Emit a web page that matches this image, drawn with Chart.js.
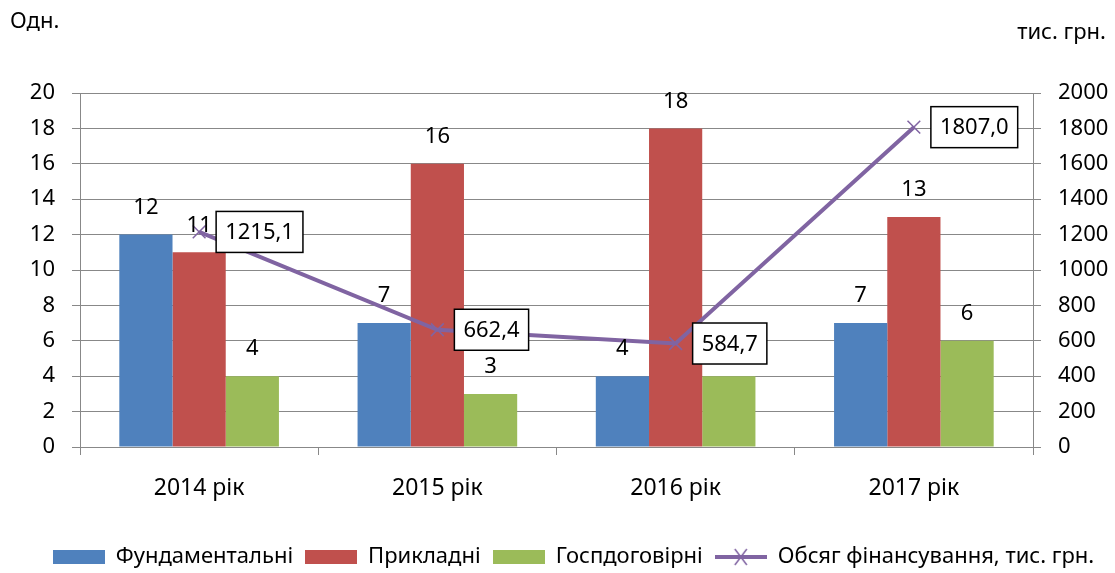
<!DOCTYPE html>
<html>
<head>
<meta charset="utf-8">
<script src="https://cdn.jsdelivr.net/npm/chart.js@4.4.0/dist/chart.umd.min.js"></script>
<style>
  html, body { margin: 0; padding: 0; background: #fff; }
  #wrap { width: 1115px; height: 573px; position: relative; }
</style>
</head>
<body>
<div id="wrap"><canvas id="chart" width="1115" height="573"></canvas></div>
<script>
// data
const categories = ["2014 рік", "2015 рік", "2016 рік", "2017 рік"];
const fundamental = [12, 7, 4, 7];
const applied = [11, 16, 18, 13];
const contract = [4, 3, 4, 6];
const funding = [1215.1, 662.4, 584.7, 1807.0];

const seriesNames = ["Фундаментальні", "Прикладні", "Госпдоговірні", "Обсяг фінансування, тис. грн."];
const colors = ["#4F81BD", "#C0504D", "#9BBB59", "#8064A2"];

const FONT = "'Noto Sans', sans-serif";

// legend swatches as small canvases
function makeBox(color) {
  const c = document.createElement("canvas");
  c.width = 52;
  c.height = 14;
  const g = c.getContext("2d");
  g.fillStyle = color;
  g.fillRect(0, 0, 52, 14);
  return c;
}
function makeLineMark(color) {
  const c = document.createElement("canvas");
  c.width = 52;
  c.height = 20;
  const g = c.getContext("2d");
  g.strokeStyle = color;
  g.lineWidth = 4;
  g.beginPath();
  g.moveTo(0, 10);
  g.lineTo(52, 10);
  g.stroke();
  g.lineWidth = 1.5;
  g.beginPath();
  g.moveTo(20, 2); g.lineTo(32, 18);
  g.moveTo(32, 2); g.lineTo(20, 18);
  g.stroke();
  return c;
}

const fmt = (v) => v.toFixed(1).replace(".", ",");

// nudge the legend a bit right and down, like the original
const legendShift = {
  id: "legendShift",
  afterLayout(chart) {
    const lg = chart.legend;
    if (!lg) return;
    lg.left += 16;
    lg.right += 16;
    lg.top += 5;
    lg.bottom += 5;
  }
};

// value labels above bars, boxed labels on the line, axis titles
const labelPlugin = {
  id: "labelPlugin",
  afterDatasetsDraw(chart) {
    const ctx = chart.ctx;
    ctx.save();
    ctx.font = "22px " + FONT;
    ctx.fillStyle = "#000";
    ctx.textAlign = "center";
    ctx.textBaseline = "bottom";
    for (let d = 0; d < 3; d++) {
      const meta = chart.getDatasetMeta(d);
      meta.data.forEach((bar, i) => {
        ctx.fillText(String(chart.data.datasets[d].data[i]), bar.x, bar.y - 16);
      });
    }
    const lineMeta = chart.getDatasetMeta(3);
    ctx.font = "22px " + FONT;
    ctx.textAlign = "left";
    ctx.textBaseline = "middle";
    lineMeta.data.forEach((pt, i) => {
      const txt = fmt(funding[i]);
      const w = ctx.measureText(txt).width + 18;
      const h = 41;
      const x = pt.x + 17;
      const y = pt.y - h / 2;
      ctx.fillStyle = "#fff";
      ctx.fillRect(x, y, w, h);
      ctx.strokeStyle = "#000";
      ctx.lineWidth = 1.5;
      ctx.strokeRect(x, y, w, h);
      ctx.fillStyle = "#000";
      ctx.fillText(txt, x + 9, pt.y + 1);
    });
    ctx.font = "22px " + FONT;
    ctx.textBaseline = "middle";
    ctx.textAlign = "left";
    ctx.fillText("Одн.", 10, 22);
    ctx.textAlign = "right";
    ctx.fillText("тис. грн.", 1106, 33);
    ctx.restore();
  }
};

const ctx = document.getElementById("chart").getContext("2d");
new Chart(ctx, {
  data: {
    labels: categories,
    datasets: [
      { type: "bar", label: seriesNames[0], data: fundamental, backgroundColor: colors[0], yAxisID: "y", order: 2, categoryPercentage: 0.67, barPercentage: 1 },
      { type: "bar", label: seriesNames[1], data: applied, backgroundColor: colors[1], yAxisID: "y", order: 2, categoryPercentage: 0.67, barPercentage: 1 },
      { type: "bar", label: seriesNames[2], data: contract, backgroundColor: colors[2], yAxisID: "y", order: 2, categoryPercentage: 0.67, barPercentage: 1 },
      {
        type: "line", label: seriesNames[3], data: funding, yAxisID: "y1", order: 1,
        borderColor: colors[3], borderWidth: 4, tension: 0,
        pointStyle: "crossRot", pointRadius: 9, pointBorderWidth: 1.5,
        pointBorderColor: colors[3], pointBackgroundColor: colors[3]
      }
    ]
  },
  options: {
    responsive: false,
    animation: false,
    layout: { padding: { top: 93, left: 0, right: 0, bottom: 0 } },
    scales: {
      x: {
        offset: true,
        grid: { offset: true, drawOnChartArea: false, drawTicks: true, tickLength: 8, color: "#888" },
        border: { color: "#888", width: 1 },
        ticks: { color: "#000", font: { family: FONT, size: 23 }, padding: 20 },
        afterFit(scale) { scale.height = 82; }
      },
      y: {
        position: "left",
        min: 0, max: 20,
        ticks: { stepSize: 2, color: "#000", font: { family: FONT, size: 22 }, padding: 17 },
        grid: { color: "#888", tickLength: 8 },
        border: { color: "#888", width: 1 },
        afterFit(scale) { scale.width = 80; }
      },
      y1: {
        position: "right",
        min: 0, max: 2000,
        ticks: {
          stepSize: 200, color: "#000", font: { family: FONT, size: 22 }, padding: 17,
          callback: (v) => String(v)
        },
        grid: { drawOnChartArea: false, color: "#888", tickLength: 8 },
        border: { color: "#888", width: 1 },
        afterFit(scale) { scale.width = 82; }
      }
    },
    plugins: {
      legend: {
        position: "bottom",
        labels: {
          usePointStyle: true,
          pointStyleWidth: 52,
          padding: 12,
          color: "#000",
          font: { family: FONT, size: 22 },
          generateLabels(chart) {
            return chart.data.datasets.map((ds, i) => ({
              text: ds.label,
              pointStyle: i < 3 ? makeBox(colors[i]) : makeLineMark(colors[3]),
              fillStyle: colors[i],
              strokeStyle: colors[i],
              lineWidth: 0,
              hidden: false,
              datasetIndex: i,
              fontColor: "#000"
            }));
          }
        }
      },
      tooltip: { enabled: false }
    }
  },
  plugins: [labelPlugin, legendShift]
});
</script>
</body>
</html>
